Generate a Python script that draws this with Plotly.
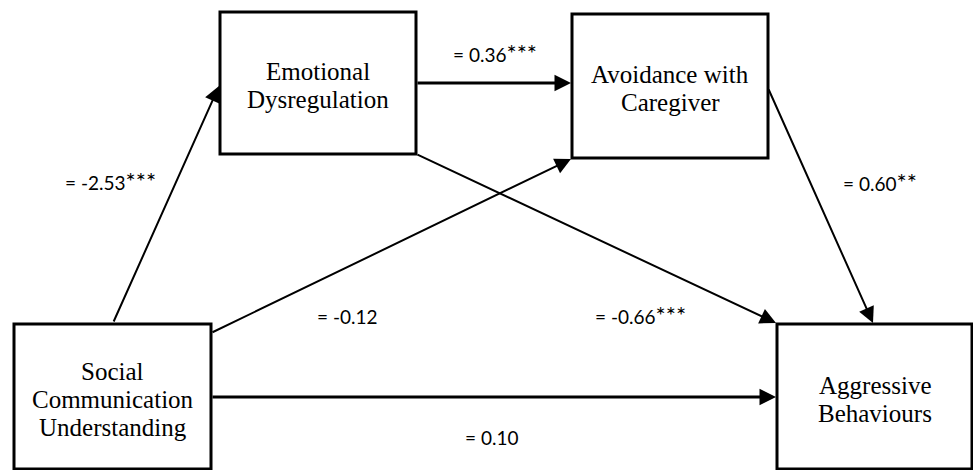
import plotly.graph_objects as go

# Node names (text lines)
nodes = ["Emotional Dysregulation", "Avoidance with Caregiver",
         "Social Communication Understanding", "Aggressive Behaviours"]
node_lines = [["Emotional", "Dysregulation"],
              ["Avoidance with", "Caregiver"],
              ["Social", "Communication", "Understanding"],
              ["Aggressive", "Behaviours"]]
# Paths (from, to) and coefficients
path_from = ["SCU", "ED", "SCU", "ED", "AC", "SCU"]
path_to = ["ED", "AC", "AC", "AB", "AB", "AB"]
coefficients = ["= -2.53", "= 0.36", "= -0.12", "= -0.66", "= 0.60", "= 0.10"]
significance = ["***", "***", "", "***", "**", ""]

# Layout (pixel positions)
W, H = 973, 470
boxes = {"ED": (220, 12, 416, 154), "AC": (572, 14, 768, 158),
         "SCU": (14, 324, 211, 469), "AB": (777, 324, 972, 469)}
keys = ["ED", "AC", "SCU", "AB"]
line_y = {"ED": [71, 99], "AC": [74, 102], "SCU": [371, 399, 427], "AB": [385, 413]}
arrow_tail = [(113, 323), (416, 83), (211, 333), (416, 154), (768, 88), (211, 397)]
arrow_head = [(219, 86), (571, 83), (571, 159), (776, 323), (873, 323), (776, 397)]
arrow_w = [2, 3, 2, 2, 2, 3]
label_pos = [(63, 180), (451, 52), (315, 316), (593, 314), (841, 181), (463, 437)]

fig = go.Figure()
fig.add_trace(go.Scatter(x=[0, W], y=[0, H], mode="markers", marker=dict(opacity=0),
                         hoverinfo="skip", showlegend=False))

for k in keys:
    x0, y0, x1, y1 = boxes[k]
    fig.add_shape(type="rect", x0=x0, y0=y0, x1=x1, y1=y1, xref="x", yref="y",
                  line=dict(color="black", width=3), fillcolor="white", layer="below")

for k, lines in zip(keys, node_lines):
    x0, y0, x1, y1 = boxes[k]
    cx = (x0 + x1) / 2
    for ln, yy in zip(lines, line_y[k]):
        fig.add_annotation(x=cx, y=yy, text=ln, showarrow=False, xanchor="center", yanchor="middle",
                           font=dict(family="Liberation Serif", size=25, color="black"))

for (tx, ty), (hx, hy), w in zip(arrow_tail, arrow_head, arrow_w):
    fig.add_annotation(x=hx, y=hy, ax=tx, ay=ty, xref="x", yref="y", axref="x", ayref="y",
                       text="", showarrow=True, arrowhead=2, arrowsize=1.6 if w == 2 else 1.1,
                       arrowwidth=w, arrowcolor="black", standoff=0, startstandoff=0)

for lab, sig, (lx, ly) in zip(coefficients, significance, label_pos):
    txt = lab + (f"<span style='font-size:24px'>{sig}</span>" if sig else "")
    fig.add_annotation(x=lx, y=ly, text=txt, showarrow=False, xanchor="left", yanchor="middle",
                       font=dict(family="Lato", size=19, color="black"))

fig.update_xaxes(range=[0, W], visible=False, fixedrange=True)
fig.update_yaxes(range=[H, 0], visible=False, fixedrange=True)
fig.update_layout(width=W, height=H, margin=dict(l=0, r=0, t=0, b=0),
                  plot_bgcolor="white", paper_bgcolor="white", showlegend=False)
fig.write_html("out.html", config={"displayModeBar": False},
               post_script="document.body.style.margin='0';document.body.style.overflow='hidden';")
